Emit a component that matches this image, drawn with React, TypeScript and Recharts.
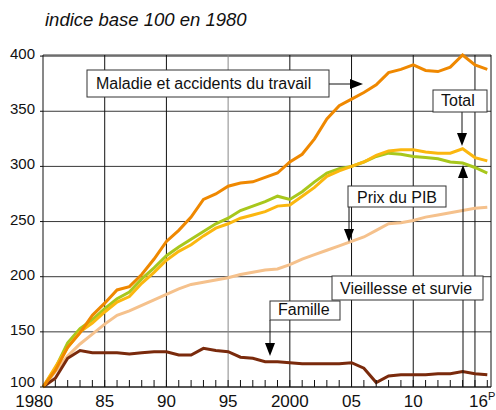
import React from 'react';
import { LineChart, Line, XAxis, YAxis, CartesianGrid, ReferenceLine } from 'recharts';

// indice base 100 en 1980, one value per year
const years = [
    1980, 1981, 1982, 1983, 1984, 1985, 1986, 1987, 1988, 1989,
    1990, 1991, 1992, 1993, 1994, 1995, 1996, 1997, 1998, 1999,
    2000, 2001, 2002, 2003, 2004, 2005, 2006, 2007, 2008, 2009,
    2010, 2011, 2012, 2013, 2014, 2015, 2016,
];
const maladie = [
    100, 115, 136, 149, 165, 176, 188, 191, 202, 216,
    232, 242, 254, 270, 275, 282, 285, 286, 290, 294,
    304, 311, 325, 343, 355, 361, 367, 374, 385, 388,
    392, 387, 386, 390, 401, 392, 388,
];
const total = [
    100, 118, 136, 150, 158, 168, 177, 182, 194, 204,
    215, 223, 229, 237, 244, 248, 253, 256, 259, 264,
    265, 273, 281, 291, 296, 300, 304, 310, 314, 315,
    315, 313, 312, 312, 316, 308, 305,
];
const vieillesse = [
    100, 117, 140, 153, 161, 171, 180, 186, 198, 208,
    219, 227, 234, 241, 248, 253, 260, 264, 268, 273,
    270, 277, 286, 294, 298, 300, 304, 309, 312, 311,
    309, 308, 307, 304, 303, 299, 294,
];
const prixPib = [
    100, 114, 128, 139, 148, 157, 165, 169, 174, 179,
    184, 189, 193, 195, 197, 199, 202, 204, 206, 207,
    211, 216, 220, 224, 228, 232, 236, 242, 248, 249,
    251, 254, 256, 258, 260, 262, 263,
];
const famille = [
    100, 108, 126, 133, 131, 131, 131, 130, 131, 132,
    132, 129, 129, 135, 133, 132, 127, 126, 123, 123,
    122, 121, 121, 121, 121, 122, 117, 104, 110, 111,
    111, 111, 112, 112, 114, 112, 111,
];

const yTicks = [100, 150, 200, 250, 300, 350, 400];
const gridYears = [1985, 1990, 1995, 2000, 2005, 2010, 2015];
const xLabels: Record<number, string> = {
    1980: '1980', 1985: '85', 1990: '90', 1995: '95',
    2000: '2000', 2005: '05', 2010: '10', 2015: '16',
};

const data = years.map((year, i) => ({
    year,
    maladie: maladie[i],
    total: total[i],
    vieillesse: vieillesse[i],
    prixPib: prixPib[i],
    famille: famille[i],
}));

const FONT = '"Liberation Sans", Arial, sans-serif';
const X_MAX = 2016.3;

const XTick = ({ x, y, payload }: any) => {
    const v = payload.value;
    const label = xLabels[v];
    const ty = y + 19.5;
    let text = null;
    if (label && v === 1980) {
        text = <text x={x + 10} y={ty} textAnchor="end" fontSize={17} fill="#111">{label}</text>;
    } else if (label && v === 2015) {
        text = (
            <text x={x - 6} y={ty} textAnchor="start" fontSize={17} fill="#111">
                {label}
                <tspan fontSize={11} dy={-7}>P</tspan>
            </text>
        );
    } else if (label) {
        text = <text x={x} y={ty} textAnchor="middle" fontSize={17} fill="#111">{label}</text>;
    }
    return (
        <g>
            {v > 1980 && <line x1={x} x2={x} y1={y} y2={y - 7} stroke="#111" strokeWidth={1} />}
            {text}
        </g>
    );
};

// the bottom label sits a little higher so it clears the year labels
const YTick = ({ x, y, payload }: any) => (
    <text x={x} y={payload.value === 100 ? y : y + 3} textAnchor="end" fontSize={15} fill="#111">{payload.value}</text>
);

// arrow from (x1,y1) to the tip (x2,y2)
const Arrow = ({ x1, y1, x2, y2 }: { x1: number; y1: number; x2: number; y2: number }) => {
    const len = Math.hypot(x2 - x1, y2 - y1);
    const ux = (x2 - x1) / len;
    const uy = (y2 - y1) / len;
    const bx = x2 - ux * 13;
    const by = y2 - uy * 13;
    const px = -uy * 5;
    const py = ux * 5;
    return (
        <g>
            <line x1={x1} y1={y1} x2={bx} y2={by} stroke="#111" strokeWidth={1} />
            <polygon points={`${x2},${y2} ${bx + px},${by + py} ${bx - px},${by - py}`} fill="#000" />
        </g>
    );
};

const Box = ({ x, y, w, h, label, tx, ty }: any) => (
    <g>
        <rect x={x} y={y} width={w} height={h} fill="#fff" stroke="#333" strokeWidth={1} />
        <text x={tx} y={ty} fontSize={16} fill="#111">{label}</text>
    </g>
);

export default function App() {
    return (
        <div style={{ position: 'absolute', left: 0, top: 0, width: 496, height: 410, fontFamily: FONT, background: '#fff' }}>
            <LineChart width={496} height={410} data={data} margin={{ top: 55, right: 5, left: 0, bottom: 0 }}>
                <CartesianGrid vertical={false} stroke="#222" strokeOpacity={0.9} />
                {gridYears.map((yr) => (
                    <ReferenceLine key={yr} x={yr} stroke={yr === 1995 ? '#888' : '#111'} strokeWidth={1} />
                ))}
                <ReferenceLine x={X_MAX} stroke="#111" strokeWidth={1} />
                <XAxis
                    dataKey="year"
                    type="number"
                    domain={[1980, X_MAX]}
                    ticks={years}
                    interval={0}
                    height={23}
                    tick={<XTick />}
                    tickLine={false}
                    tickSize={0}
                    tickMargin={0}
                    axisLine={{ stroke: '#111' }}
                />
                <YAxis
                    type="number"
                    domain={[100, 400]}
                    ticks={yTicks}
                    width={43}
                    tick={<YTick />}
                    tickSize={3}
                    tickMargin={5}
                    tickLine={{ stroke: '#111' }}
                    axisLine={{ stroke: '#111' }}
                />
                <Line dataKey="prixPib" stroke="#f5c18c" strokeWidth={3} dot={false} isAnimationActive={false} />
                <Line dataKey="famille" stroke="#7a2a0c" strokeWidth={3} dot={false} isAnimationActive={false} />
                <Line dataKey="vieillesse" stroke="#a8c71c" strokeWidth={3} dot={false} isAnimationActive={false} />
                <Line dataKey="total" stroke="#fbb70f" strokeWidth={3} dot={false} isAnimationActive={false} />
                <Line dataKey="maladie" stroke="#ef8800" strokeWidth={3} dot={false} isAnimationActive={false} />
            </LineChart>
            <svg width={496} height={410} style={{ position: 'absolute', left: 0, top: 0, pointerEvents: 'none' }}>
                <text x={45} y={26} fontSize={18.5} fontStyle="italic" fill="#111">indice base 100 en 1980</text>

                <Arrow x1={329} y1={84} x2={363} y2={84} />
                <Box x={87} y={70} w={242} h={27} label="Maladie et accidents du travail" tx={96} ty={89} />

                <Arrow x1={462} y1={112} x2={462} y2={146} />
                <Box x={433} y={90} w={54} h={22} label="Total" tx={441} ty={106} />

                <Arrow x1={349} y1={207} x2={349} y2={242} />
                <Box x={348} y={186} w={98} h={21} label="Prix du PIB" tx={357} ty={203} />

                <Arrow x1={463} y1={387} x2={463} y2={165} />
                <Box x={332} y={276} w={151} h={24} label="Vieillesse et survie" tx={340} ty={294} />

                <Arrow x1={270} y1={320} x2={270} y2={356} />
                <Box x={270} y={301} w={70} h={19} label="Famille" tx={278} ty={315} />
            </svg>
        </div>
    );
}
